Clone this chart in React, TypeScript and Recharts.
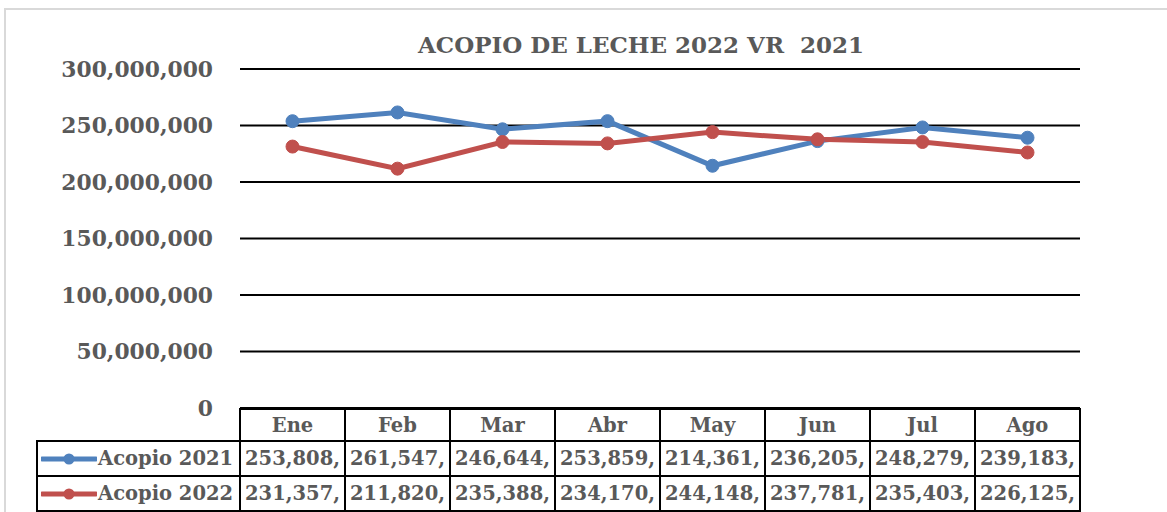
// Acopio de leche: línea 2021 vs 2022 con tabla de datos debajo
import { LineChart, Line, XAxis, YAxis, CartesianGrid } from 'recharts';

const months = ['Ene', 'Feb', 'Mar', 'Abr', 'May', 'Jun', 'Jul', 'Ago'];
const acopio2021 = [253808000, 261547000, 246644000, 253859000, 214361000, 236205000, 248279000, 239183000];
const acopio2022 = [231357000, 211820000, 235388000, 234170000, 244148000, 237781000, 235403000, 226125000];
const yTicks = [0, 50000000, 100000000, 150000000, 200000000, 250000000, 300000000];

const series = [
  { key: 'a2021', name: 'Acopio 2021', color: '#4F81BD', values: acopio2021 },
  { key: 'a2022', name: 'Acopio 2022', color: '#C0504D', values: acopio2022 },
];

const data = months.map((m, i) => ({ month: m, a2021: acopio2021[i], a2022: acopio2022[i] }));

const FONT = "'DejaVu Serif', serif";
const GRAY = '#595959';
const fmt = (v: number) => v.toLocaleString('en-US');
// the table cells are too narrow, Excel cuts the number after 8 characters
const cellText = (v: number) => fmt(v).slice(0, 8);

const PLOT_LEFT = 240;
const COL_W = 105;
const LEG_LEFT = 37;
const TOP = 409;
const ROW_H = [32, 35, 35];

function DataTable() {
  const cell = (left: number, top: number, w: number, h: number, content: any, extra: any = {}) => (
    <div
      style={{
        position: 'absolute', left, top, width: w, height: h, boxSizing: 'border-box',
        border: '2px solid #000', marginLeft: -1, marginTop: -1,
        display: 'flex', alignItems: 'center', overflow: 'hidden', whiteSpace: 'nowrap',
        fontFamily: FONT, fontWeight: 700, fontSize: 19.5, color: GRAY, background: '#fff',
        ...extra,
      }}
    >
      {content}
    </div>
  );
  const rows: any[] = [];
  months.forEach((m, i) => {
    rows.push(cell(PLOT_LEFT + i * COL_W, TOP, COL_W + 2, ROW_H[0] + 2, m, { justifyContent: 'center' }));
  });
  series.forEach((s, r) => {
    const top = TOP + ROW_H[0] + (r === 0 ? 0 : ROW_H[1]);
    const h = ROW_H[r + 1];
    rows.push(
      cell(LEG_LEFT, top, PLOT_LEFT - LEG_LEFT + 2, h + 2, (
        <>
          <svg width={56} height={14} style={{ marginLeft: 3, marginRight: 1 }}>
            <line x1={1} y1={7} x2={55} y2={7} stroke={s.color} strokeWidth={5} strokeLinecap="round" />
            <circle cx={28} cy={7} r={5.5} fill={s.color} />
          </svg>
          {s.name}
        </>
      )),
    );
    s.values.forEach((v, i) => {
      rows.push(cell(PLOT_LEFT + i * COL_W, top, COL_W + 2, h + 2, cellText(v), { paddingLeft: 4 }));
    });
  });
  return <>{rows}</>;
}

export default function App() {
  return (
    <div style={{ position: 'absolute', left: 0, top: 0, width: 1167, height: 512, overflow: 'hidden', background: '#fff' }}>
      <div style={{ position: 'absolute', left: 4, top: 8, width: 1300, height: 700, border: '2px solid #d9d9d9' }} />
      <div
        style={{
          position: 'absolute', left: 418, top: 31, whiteSpace: 'pre',
          fontFamily: FONT, fontWeight: 700, fontSize: 23, color: GRAY,
        }}
      >
        ACOPIO DE LECHE 2022 VR  2021
      </div>
      <div style={{ position: 'absolute', left: 0, top: 0 }}>
        <LineChart width={1167} height={512} data={data} margin={{ top: 69, right: 87, bottom: 104, left: 40 }}>
          <CartesianGrid vertical={false} stroke="#000" strokeWidth={2} />
          <XAxis dataKey="month" hide padding={{ left: 52.5, right: 52.5 }} />
          <YAxis
            width={200}
            domain={[0, 300000000]}
            ticks={yTicks}
            tickFormatter={fmt}
            axisLine={false}
            tickLine={false}
            tickSize={0}
            tickMargin={27}
            tick={{ fill: GRAY, fontSize: 21.8, fontWeight: 700, fontFamily: FONT }}
          />
          {series.map((s) => (
            <Line
              key={s.key}
              dataKey={s.key}
              name={s.name}
              stroke={s.color}
              strokeWidth={5}
              dot={{ r: 6.5, fill: s.color, stroke: s.color, strokeWidth: 1 }}
              isAnimationActive={false}
            />
          ))}
        </LineChart>
      </div>
      <DataTable />
    </div>
  );
}
